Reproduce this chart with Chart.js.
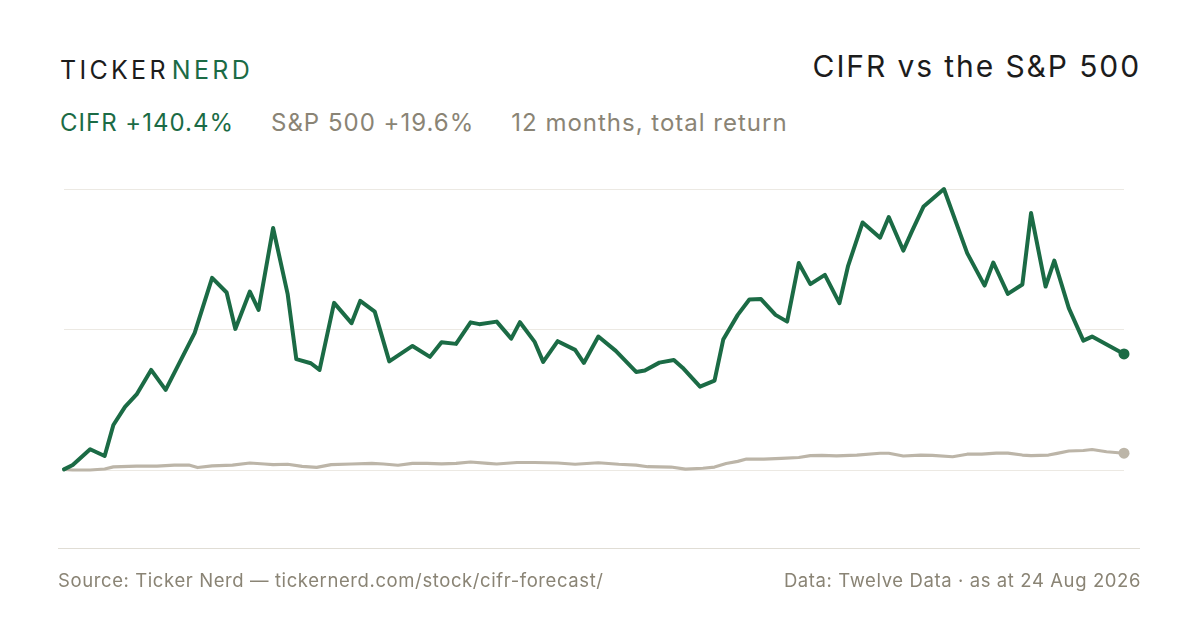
<!DOCTYPE html>
<html>
<head>
<meta charset="utf-8">
<script src="https://cdn.jsdelivr.net/npm/chart.js@4.4.1/dist/chart.umd.min.js"></script>
<style>
  html, body { margin: 0; padding: 0; background: #fff; }
  body { width: 1200px; height: 630px; position: relative; overflow: hidden; font-family: Inter, "Noto Sans", sans-serif; }
  #chart { position: absolute; left: 0; top: 0; width: 1200px; height: 630px; }
  .logo { position: absolute; left: 60px; top: 58px; font-size: 25px; letter-spacing: 3.3px; color: #1c1c1c; line-height: 1; white-space: nowrap; }
  .logo .nerd { color: #1b6b45; margin-left: 3px; }
  .title { position: absolute; right: 59px; top: 51px; font-size: 30px; letter-spacing: 1.9px; color: #1c1c1c; line-height: 1; white-space: nowrap; }
  .sub { position: absolute; left: 60px; top: 111px; font-size: 24px; letter-spacing: 1px; line-height: 1; color: #8a8475; white-space: nowrap; }
  .sub .c { color: #1b6b45; }
  .sub span { margin-right: 37px; }
  .rule { position: absolute; left: 58px; top: 548px; width: 1082px; height: 1px; background: #e0ddd5; }
  .foot { position: absolute; top: 571px; font-size: 18.5px; letter-spacing: 0.6px; line-height: 1; color: #8a8475; white-space: nowrap; }
  .foot.l { left: 58px; }
  .foot.r { right: 59px; }
</style>
</head>
<body>
<div class="logo">TICKER<span class="nerd">NERD</span></div>
<div class="title">CIFR vs the S&amp;P 500</div>
<div class="sub"><span class="c">CIFR +140.4%</span><span>S&amp;P 500 +19.6%</span>12 months, total return</div>
<canvas id="chart" width="1200" height="630"></canvas>
<div class="rule"></div>
<div class="foot l">Source: Ticker Nerd — tickernerd.com/stock/cifr-forecast/</div>
<div class="foot r">Data: Twelve Data · as at 24 Aug 2026</div>
<script>
// day offsets from 24 Aug 2025, total return in %
const cifrDays = [0, 3, 9, 14, 17, 21, 25, 30, 35, 45, 51, 56, 59, 64, 67, 72, 77, 80, 85, 88,
  93, 99, 102, 107, 112, 120, 126, 130, 135, 140, 143, 149, 154, 157, 162, 165, 170, 176, 179, 184,
  190, 197, 200, 205, 210, 213, 219, 224, 227, 232, 236, 240, 245, 249, 253, 257, 262, 267, 270, 275,
  281, 284, 289, 292, 296, 303, 311, 317, 320, 325, 330, 333, 338, 341, 346, 351, 354, 365]
const cifrPct = [0, 5.2, 24.4, 16.2, 53.9, 75.9, 91.1, 120.9, 96.6, 166.0, 233.0, 215.1, 170.8, 216.3, 194.0, 293.5, 213.5, 134.0, 129.1, 120.9,
  202.5, 177.8, 204.9, 191.9, 131.3, 150.1, 136.8, 154.7, 152.6, 178.8, 176.6, 179.7, 159.0, 179.0, 155.4, 130.7, 155.9, 145.3, 129.4, 161.5,
  144.1, 118.5, 120.3, 129.8, 133.1, 123.6, 100.6, 107.9, 157.8, 187.9, 206.6, 207.1, 187.9, 179.7, 250.9, 225.3, 236.6, 202.1, 247.6, 300.3,
  281.7, 306.9, 266.1, 289.8, 319.8, 341.0, 263.0, 223.5, 251.6, 213.5, 224.8, 311.7, 222.4, 254.0, 196.1, 156.5, 161.5, 140.4]

const spxDays = [0, 3, 9, 14, 17, 25, 32, 38, 43, 46, 51, 58, 64, 69, 72, 77, 82, 87, 92, 99,
  106, 110, 115, 120, 125, 130, 135, 140, 146, 149, 156, 162, 170, 176, 184, 191, 197, 201, 209, 214,
  220, 224, 228, 232, 235, 241, 247, 253, 257, 261, 266, 273, 281, 284, 289, 295, 299, 306, 311, 316,
  321, 325, 330, 333, 339, 342, 346, 351, 354, 359, 365]
const spxPct = [0, -0.8, -0.8, 0.4, 3.0, 4.0, 4.0, 5.2, 5.2, 2.2, 4.3, 5.2, 7.7, 6.5, 5.8, 6.2, 3.7, 2.4, 5.8, 6.5,
  7.3, 6.5, 5.0, 7.3, 7.3, 6.7, 7.3, 8.9, 7.3, 6.5, 8.3, 8.3, 7.7, 6.2, 8.0, 6.2, 5.2, 3.2, 2.8, 0.2,
  1.3, 2.8, 7.1, 9.7, 12.5, 12.5, 13.4, 14.4, 16.6, 17.0, 16.4, 17.4, 19.6, 19.6, 16.2, 17.2, 17.0, 15.3, 18.4, 18.6,
  19.8, 19.8, 17.4, 16.8, 17.4, 19.5, 22.3, 22.9, 24.1, 21.4, 19.6]

const GREEN = '#1b6b45'
const SAND = '#bcb5a8'

const toPoints = (days, vals) => days.map((d, i) => ({ x: d, y: vals[i] }))
const lastDot = (n, r) => (ctx) => ctx.dataIndex === n - 1 ? r : 0

const yMin = Math.min(...cifrPct, ...spxPct)
const yMax = Math.max(...cifrPct, ...spxPct)

new Chart(document.getElementById('chart'), {
  type: 'line',
  data: {
    datasets: [
      {
        label: 'CIFR',
        data: toPoints(cifrDays, cifrPct),
        borderColor: GREEN,
        backgroundColor: GREEN,
        borderWidth: 4,
        borderJoinStyle: 'round',
        borderCapStyle: 'round',
        tension: 0,
        pointRadius: lastDot(cifrDays.length, 5.5),
        pointBorderWidth: 0,
        pointBackgroundColor: GREEN,
        clip: false,
      },
      {
        label: 'S&P 500',
        data: toPoints(spxDays, spxPct),
        borderColor: SAND,
        backgroundColor: SAND,
        borderWidth: 3.2,
        borderJoinStyle: 'round',
        borderCapStyle: 'round',
        tension: 0,
        pointRadius: lastDot(spxDays.length, 5.5),
        pointBorderWidth: 0,
        pointBackgroundColor: SAND,
        clip: false,
      }
    ]
  },
  options: {
    responsive: false,
    animation: false,
    devicePixelRatio: 1,
    layout: { padding: { left: 64, right: 76, top: 189, bottom: 160 } },
    scales: {
      x: { type: 'linear', min: 0, max: 365, display: false },
      y: {
        min: yMin,
        max: yMax,
        afterBuildTicks: (s) => {
          s.ticks = [yMin, (yMin + yMax) / 2, yMax].map(v => ({ value: v }))
        },
        afterFit: (s) => { s.width = 0 },
        ticks: { display: false },
        border: { display: false },
        grid: { color: '#ece9e3', lineWidth: 1, drawTicks: false },
      }
    },
    plugins: {
      legend: { display: false },
      tooltip: { enabled: false },
    }
  }
})
</script>
</body>
</html>
